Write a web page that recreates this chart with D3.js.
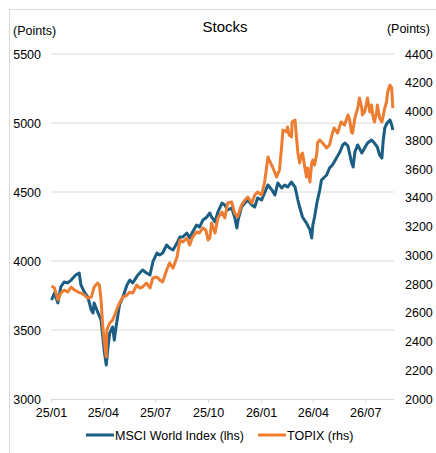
<!DOCTYPE html>
<html>
<head>
<meta charset="utf-8">
<script src="https://cdn.jsdelivr.net/npm/d3@7"></script>
<style>
  body { margin: 0; background: #fff; }
  text { font-family: "Liberation Sans", Arial, sans-serif; fill: #000; }
</style>
</head>
<body>
<div id="chart"></div>
<script>
var msciDates = ["2025-01-02","2025-01-07","2025-01-13","2025-01-18","2025-01-24","2025-01-30","2025-02-05","2025-02-13","2025-02-19","2025-02-22",
  "2025-02-28","2025-03-06","2025-03-12","2025-03-15","2025-03-17","2025-03-23","2025-03-29","2025-04-01","2025-04-04","2025-04-07",
  "2025-04-10","2025-04-13","2025-04-18","2025-04-21","2025-04-24","2025-04-30","2025-05-06","2025-05-13","2025-05-18","2025-05-23",
  "2025-06-01","2025-06-09","2025-06-16","2025-06-22","2025-06-27","2025-07-04","2025-07-09","2025-07-14","2025-07-21","2025-07-26",
  "2025-08-01","2025-08-08","2025-08-13","2025-08-18","2025-08-25","2025-08-30","2025-09-04","2025-09-11","2025-09-16","2025-09-22",
  "2025-09-29","2025-10-04","2025-10-07","2025-10-13","2025-10-18","2025-10-25","2025-10-30","2025-11-04","2025-11-11","2025-11-16",
  "2025-11-20","2025-11-22","2025-11-28","2025-12-04","2025-12-09","2025-12-16","2025-12-21","2025-12-26","2026-01-02","2026-01-07",
  "2026-01-13","2026-01-20","2026-01-25","2026-01-30","2026-02-06","2026-02-11","2026-02-16","2026-02-23","2026-03-01","2026-03-06",
  "2026-03-09","2026-03-14","2026-03-21","2026-03-27","2026-03-30","2026-04-01","2026-04-04","2026-04-08","2026-04-13","2026-04-16",
  "2026-04-25","2026-04-30","2026-05-05","2026-05-12","2026-05-18","2026-05-23","2026-05-27","2026-06-01","2026-06-07","2026-06-10",
  "2026-06-13","2026-06-18","2026-06-25","2026-06-30","2026-07-05","2026-07-12","2026-07-17","2026-07-22","2026-07-26","2026-07-30",
  "2026-08-01","2026-08-04","2026-08-08","2026-08-13","2026-08-16","2026-08-18"];
var msciValues = [3717,3768,3696,3812,3848,3841,3862,3899,3913,3826,
  3775,3739,3645,3623,3696,3631,3573,3449,3333,3246,
  3377,3478,3522,3427,3522,3681,3739,3826,3862,3841,
  3899,3935,3913,3899,3993,4058,4044,4058,4116,4094,
  4080,4130,4174,4174,4203,4167,4210,4261,4246,4297,
  4319,4348,4319,4283,4355,4420,4406,4370,4384,4319,
  4239,4297,4391,4420,4442,4406,4391,4457,4442,4493,
  4551,4514,4478,4565,4529,4551,4536,4572,4536,4442,
  4391,4319,4275,4225,4167,4261,4319,4420,4514,4587,
  4623,4674,4696,4746,4790,4841,4855,4833,4717,4681,
  4790,4841,4783,4819,4855,4877,4855,4826,4768,4746,
  4862,4964,5000,5022,4986,4949];

var topixDates = ["2025-01-02","2025-01-07","2025-01-13","2025-01-18","2025-01-24","2025-01-30","2025-02-05","2025-02-11","2025-02-17","2025-02-22",
  "2025-02-28","2025-03-06","2025-03-12","2025-03-17","2025-03-23","2025-03-26","2025-03-29","2025-04-01","2025-04-04","2025-04-07",
  "2025-04-08","2025-04-13","2025-04-18","2025-04-23","2025-04-27","2025-05-01","2025-05-06","2025-05-13","2025-05-18","2025-05-23",
  "2025-05-30","2025-06-04","2025-06-09","2025-06-16","2025-06-22","2025-06-27","2025-07-04","2025-07-09","2025-07-14","2025-07-21",
  "2025-07-26","2025-08-01","2025-08-08","2025-08-13","2025-08-18","2025-08-25","2025-08-30","2025-09-04","2025-09-11","2025-09-16",
  "2025-09-22","2025-09-27","2025-10-01","2025-10-04","2025-10-07","2025-10-13","2025-10-18","2025-10-25","2025-10-30","2025-11-04",
  "2025-11-11","2025-11-16","2025-11-21","2025-11-28","2025-12-04","2025-12-09","2025-12-16","2025-12-21","2025-12-26","2026-01-02",
  "2026-01-07","2026-01-10","2026-01-13","2026-01-15","2026-01-21","2026-01-28","2026-02-02","2026-02-06","2026-02-08","2026-02-14",
  "2026-02-16","2026-02-19","2026-02-23","2026-02-24","2026-03-01","2026-03-04","2026-03-06","2026-03-09","2026-03-12","2026-03-14",
  "2026-03-18","2026-03-21","2026-03-23","2026-03-27","2026-03-30","2026-04-01","2026-04-04","2026-04-08","2026-04-09","2026-04-13",
  "2026-04-18","2026-04-25","2026-04-30","2026-05-05","2026-05-08","2026-05-14","2026-05-20","2026-05-26","2026-06-01","2026-06-04",
  "2026-06-07","2026-06-09","2026-06-13","2026-06-18","2026-06-21","2026-06-25","2026-06-26","2026-06-30","2026-07-05","2026-07-09",
  "2026-07-12","2026-07-14","2026-07-17","2026-07-21","2026-07-22","2026-07-26","2026-07-30","2026-08-04","2026-08-07","2026-08-09",
  "2026-08-13","2026-08-16","2026-08-18"];
var topixValues = [2786,2772,2689,2737,2758,2744,2779,2758,2744,2737,
  2723,2702,2709,2779,2807,2793,2689,2501,2390,2292,
  2480,2529,2549,2598,2640,2675,2709,2723,2744,2737,
  2793,2772,2779,2807,2772,2842,2849,2828,2814,2897,
  2946,2911,2988,3106,3092,3120,3071,3127,3162,3155,
  3190,3176,3106,3120,3224,3155,3259,3301,3259,3363,
  3370,3294,3266,3349,3384,3405,3363,3419,3440,3419,
  3503,3593,3683,3663,3614,3544,3593,3767,3871,3857,
  3892,3836,3823,3927,3941,3802,3711,3642,3697,3711,
  3614,3544,3607,3510,3642,3663,3628,3711,3781,3802,
  3781,3746,3767,3850,3885,3850,3927,3906,3976,3941,
  3857,3850,3955,4024,4094,4024,3976,3997,4094,3997,
  4045,3976,3927,3997,4045,3955,3927,4024,4066,4136,
  4184,4163,4024];

var leftTicks = [3000, 3500, 4000, 4500, 5000, 5500];
var rightTicks = [2000, 2200, 2400, 2600, 2800, 3000, 3200, 3400, 3600, 3800, 4000, 4200, 4400];
var xTicks = ["2025-01-01","2025-04-01","2025-07-01","2025-10-01","2026-01-01","2026-04-01","2026-07-01"];
var seriesNames = ["MSCI World Index (lhs)", "TOPIX (rhs)"];
var seriesColors = ["#1b5e83", "#ed7d31"];

var width = 436, height = 453;
var parse = d3.timeParse("%Y-%m-%d");
var fmt = d3.timeFormat("%y/%m");

var svg = d3.select("#chart").append("svg")
  .attr("width", width)
  .attr("height", height);

svg.append("rect")
  .attr("x", 9.5).attr("y", 9.5)
  .attr("width", 450).attr("height", 470)
  .attr("fill", "none")
  .attr("stroke", "#d9d9d9");

var x = d3.scaleTime()
  .domain([parse("2025-01-01"), parse("2026-08-20")])
  .range([51, 394]);
var yL = d3.scaleLinear().domain([3000, 5500]).range([399, 54]);
var yR = d3.scaleLinear().domain([2000, 4400]).range([399, 54]);

// grid
svg.append("g").selectAll("line")
  .data(leftTicks.slice(1))
  .enter().append("line")
  .attr("x1", 51).attr("x2", 394)
  .attr("y1", d => yL(d)).attr("y2", d => yL(d))
  .attr("stroke", "#d9d9d9")
  .attr("stroke-width", 1);

// left axis
var leftAxis = svg.append("g")
  .attr("transform", "translate(41,0)")
  .call(d3.axisLeft(yL).tickValues(leftTicks).tickSize(0).tickPadding(0).tickFormat(d3.format("d")));
leftAxis.select(".domain").remove();
leftAxis.selectAll("text").style("font-size", "12.5px").style("font-family", "Liberation Sans, Arial");

// right axis
var rightAxis = svg.append("g")
  .attr("transform", "translate(405,0)")
  .call(d3.axisRight(yR).tickValues(rightTicks).tickSize(0).tickPadding(0).tickFormat(d3.format("d")));
rightAxis.select(".domain").remove();
rightAxis.selectAll("text").style("font-size", "12.5px").style("font-family", "Liberation Sans, Arial");

// bottom axis
var bottomAxis = svg.append("g")
  .attr("transform", "translate(0,399)")
  .call(d3.axisBottom(x).tickValues(xTicks.map(parse)).tickSize(4).tickPadding(5).tickFormat(fmt));
bottomAxis.select(".domain").attr("d", "M51,0.5H394").attr("stroke", "#d9d9d9");
bottomAxis.selectAll(".tick line").attr("stroke", "#d9d9d9");
bottomAxis.selectAll("text").style("font-size", "12.5px").style("font-family", "Liberation Sans, Arial");

// lines
var msci = msciDates.map((d, i) => ({ date: parse(d), value: msciValues[i] }));
var topix = topixDates.map((d, i) => ({ date: parse(d), value: topixValues[i] }));

var lineL = d3.line().x(d => x(d.date)).y(d => yL(d.value));
var lineR = d3.line().x(d => x(d.date)).y(d => yR(d.value));

svg.append("path")
  .datum(msci)
  .attr("d", lineL)
  .attr("fill", "none")
  .attr("stroke", seriesColors[0])
  .attr("stroke-width", 3)
  .attr("stroke-linejoin", "round");

svg.append("path")
  .datum(topix)
  .attr("d", lineR)
  .attr("fill", "none")
  .attr("stroke", seriesColors[1])
  .attr("stroke-width", 3)
  .attr("stroke-linejoin", "round");

// titles
svg.append("text")
  .attr("x", 225).attr("y", 32)
  .attr("text-anchor", "middle")
  .style("font-size", "15px")
  .text("Stocks");

svg.append("text")
  .attr("x", 13).attr("y", 35)
  .style("font-size", "12.5px")
  .text("(Points)");

svg.append("text")
  .attr("x", 430).attr("y", 33)
  .attr("text-anchor", "end")
  .style("font-size", "12.5px")
  .text("(Points)");

// legend
var legendX = [86, 258];
var legend = svg.append("g").selectAll("g")
  .data(seriesNames)
  .enter().append("g")
  .attr("transform", (d, i) => "translate(" + legendX[i] + ",435)");

legend.append("line")
  .attr("x1", 0).attr("x2", 28)
  .attr("stroke", (d, i) => seriesColors[i])
  .attr("stroke-width", 3);

legend.append("text")
  .attr("x", 29).attr("y", 4.5)
  .style("font-size", "12.5px")
  .text(d => d);
</script>
</body>
</html>
